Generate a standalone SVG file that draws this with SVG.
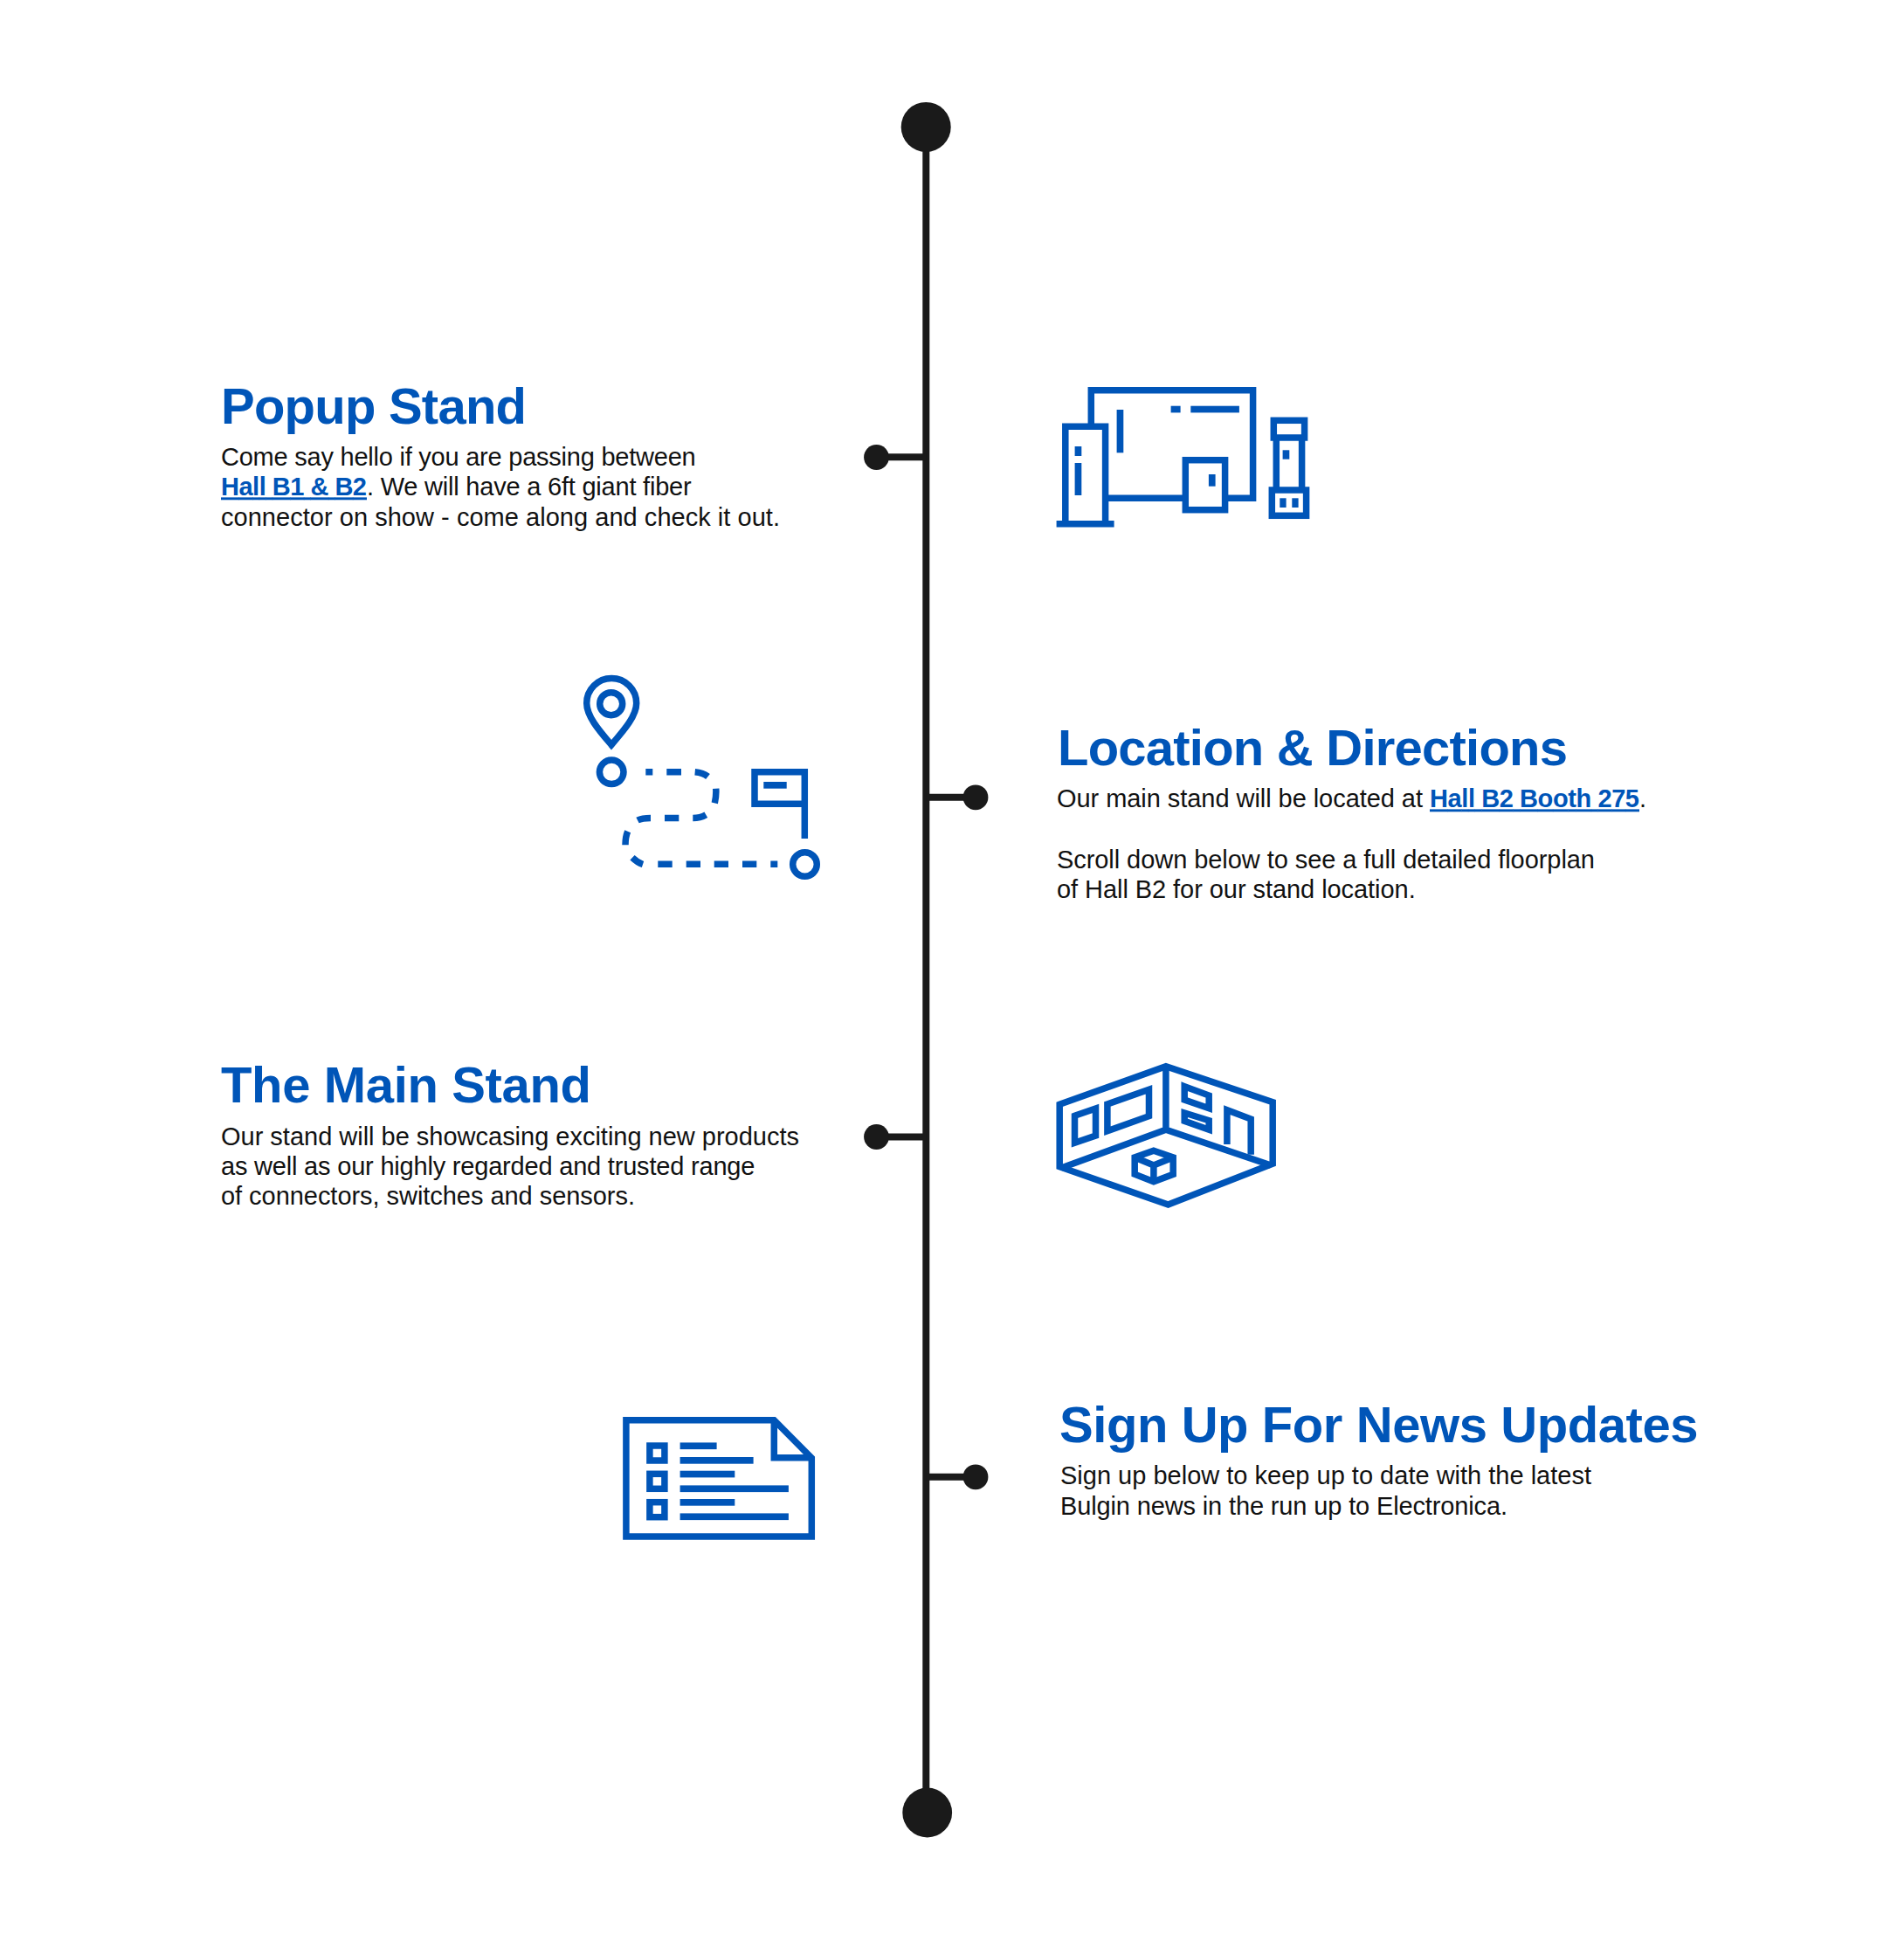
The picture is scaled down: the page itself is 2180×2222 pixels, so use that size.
<svg xmlns="http://www.w3.org/2000/svg" width="2180" height="2222" viewBox="0 0 2180 2222">
<style>
text{font-family:"Liberation Sans",Arial,sans-serif}
.h{font-size:58px;font-weight:700;fill:#0055b8}
.b{font-size:29px;fill:#111}
.l{font-weight:700;fill:#0055b8;text-decoration:underline}
.s{fill:none;stroke:#0055b8;stroke-width:7.5;stroke-linejoin:miter;stroke-miterlimit:10}
.f{fill:#0055b8}
.c{stroke:#1a1a1a;stroke-width:8;fill:none}
.d{fill:#1a1a1a}
</style>
<rect width="2180" height="2222" fill="#fff"/>
<g id="connectors">
<line class="c" x1="1060.3" y1="145" x2="1060.3" y2="2075"/>
<line class="c" x1="1003.5" y1="523.3" x2="1060.3" y2="523.3"/>
<line class="c" x1="1060.3" y1="912.8" x2="1117" y2="912.8"/>
<line class="c" x1="1003.5" y1="1301.5" x2="1060.3" y2="1301.5"/>
<line class="c" x1="1060.3" y1="1690.8" x2="1117" y2="1690.8"/>
</g>
<g id="end-top"><circle class="d" cx="1060.2" cy="145.4" r="28.5"/></g>
<g id="end-bottom"><circle class="d" cx="1061.7" cy="2075" r="28.4"/></g>
<g id="dot-1"><circle class="d" cx="1003.5" cy="523.5" r="14.4"/></g>
<g id="dot-2"><circle class="d" cx="1117" cy="912.8" r="14.4"/></g>
<g id="dot-3"><circle class="d" cx="1003.5" cy="1301.5" r="14.4"/></g>
<g id="dot-4"><circle class="d" cx="1117" cy="1690.8" r="14.4"/></g>

<g id="popup-text">
<text class="h" x="253" y="484.6" textLength="350" lengthAdjust="spacing">Popup Stand</text>
<text class="b" x="253" y="532.8" textLength="543.7" lengthAdjust="spacing">Come say hello if you are passing between</text>
<text class="b" y="567.4"><tspan class="l" x="253" textLength="167" lengthAdjust="spacing">Hall B1 &amp; B2</tspan><tspan x="420" textLength="371.7" lengthAdjust="spacing">. We will have a 6ft giant fiber</tspan></text>
<text class="b" x="253" y="602.2" textLength="640" lengthAdjust="spacing">connector on show - come along and check it out.</text>
</g>
<g id="popup-icon">
<path class="s" d="M1249.3 488.3V446.7H1434.6V570.3H1403M1357.3 570.3H1266"/>
<path class="s" d="M1219.8 599.7V488.3H1265.6V599.7"/>
<path class="s" d="M1209.6 599.7H1275.6"/>
<rect class="f" x="1230.6" y="511" width="7.7" height="11"/>
<rect class="f" x="1230.6" y="530" width="7.7" height="37"/>
<rect class="f" x="1278.6" y="469" width="7.7" height="49.3"/>
<rect class="f" x="1340.6" y="464.7" width="11" height="7.7"/>
<rect class="f" x="1363.3" y="464.7" width="55.6" height="7.7"/>
<rect class="s" x="1357.3" y="526.7" width="45.3" height="57"/>
<rect class="f" x="1383.9" y="543" width="7.7" height="13.7"/>
<rect class="s" x="1458.3" y="481.3" width="35.3" height="19.7"/>
<path class="s" d="M1461.3 501V561M1490.6 501V561"/>
<rect class="f" x="1468.6" y="515.3" width="7.7" height="10.4"/>
<rect class="s" x="1456.3" y="561" width="39.3" height="29.3"/>
<rect class="f" x="1465.3" y="570.3" width="7.3" height="10.7"/>
<rect class="f" x="1479.3" y="570.3" width="7.3" height="10.7"/>
</g>

<g id="location-icon">
<path class="s" d="M700 852.7C686.4 836.7 671.7 820 671.7 805A28.5 28.5 0 0 1 728.7 805C728.7 820 713.7 836.7 700 852.7Z"/>
<circle class="s" cx="699.7" cy="805.7" r="13"/>
<circle class="s" cx="700.2" cy="883.8" r="13.8"/>
<circle class="s" cx="921.5" cy="989.5" r="13.8"/>
<path class="s" d="M739.3 883.7H747.3M763.3 883.7H780M795.7 883.7Q805 884.5 810.5 889M819.7 902.7Q820.3 911 818.3 919.3M808.3 932.7Q801.7 936.5 793.3 936.5M777.3 936.5H761M745 936.5Q735 936.5 730 939M718.7 951.7Q716 958 716 967.3M724 981.7Q730 987.5 736 989.5M753.3 989.3H769.7M785.7 989.3H802M817.7 989.3H834M850 989.3H866.3M882.3 989.3H890.3"/>
<path class="s" d="M921.3 960V883.7H864V920.3H921.3"/>
<rect class="f" x="874.3" y="895" width="26.4" height="7.7"/>
</g>
<g id="location-text">
<text class="h" x="1211" y="876.2" textLength="584" lengthAdjust="spacing">Location &amp; Directions</text>
<text class="b" y="924.4"><tspan x="1210" textLength="427" lengthAdjust="spacing">Our main stand will be located at </tspan><tspan class="l" x="1637" textLength="240" lengthAdjust="spacing">Hall B2 Booth 275</tspan><tspan x="1877">.</tspan></text>
<text class="b" x="1210" y="994" textLength="616" lengthAdjust="spacing">Scroll down below to see a full detailed floorplan</text>
<text class="b" x="1210" y="1028.2" textLength="410.7" lengthAdjust="spacing">of Hall B2 for our stand location.</text>
</g>

<g id="main-text">
<text class="h" x="253" y="1262" textLength="424" lengthAdjust="spacing">The Main Stand</text>
<text class="b" x="253" y="1311" textLength="662" lengthAdjust="spacing">Our stand will be showcasing exciting new products</text>
<text class="b" x="253" y="1345" textLength="611.4" lengthAdjust="spacing">as well as our highly regarded and trusted range</text>
<text class="b" x="253" y="1379" textLength="474" lengthAdjust="spacing">of connectors, switches and sensors.</text>
</g>
<g id="main-icon" transform="translate(-0.8 0)">
<path class="s" d="M1214 1264.3L1335.7 1220.7L1458 1261.7V1332.3L1338.3 1379L1214 1335.7Z"/>
<path class="s" d="M1335.7 1220.7V1293.3M1216 1337L1335.7 1293.3L1456 1334"/>
<path class="s" d="M1231.3 1277.3L1255.3 1269V1300L1231.3 1308.3Z"/>
<path class="s" d="M1268.7 1264L1316.3 1247.3V1277.7L1268.7 1294.7Z"/>
<path class="s" d="M1357 1243.7L1385 1254V1268.7L1357 1259Z"/>
<path class="s" d="M1357 1274L1385 1282.7V1293.3L1357 1283.3Z"/>
<path class="s" d="M1405.7 1310V1270.7L1433 1281V1321.7"/>
<path class="s" d="M1321.7 1317.3L1344 1325V1344.3L1321.7 1352.7L1300 1344.3V1325Z"/>
<path class="s" d="M1300 1325L1321.7 1334L1344 1325M1321.7 1334V1352.7"/>
</g>

<g id="news-icon" transform="translate(-0.4 0)">
<path class="s" d="M717.3 1625.7H886.7L929.7 1669V1759H717.3Z"/>
<path class="s" d="M886.7 1625.7V1668.7H929.7"/>
<rect class="s" x="744.3" y="1655" width="17" height="17"/>
<rect class="s" x="744.3" y="1687.3" width="17" height="17"/>
<rect class="s" x="744.3" y="1719.7" width="17" height="17"/>
<rect class="f" x="779" y="1651.4" width="42" height="7.7"/>
<rect class="f" x="779" y="1668" width="84" height="7.7"/>
<rect class="f" x="779" y="1683.7" width="62.7" height="7.7"/>
<rect class="f" x="779" y="1700.4" width="124.3" height="7.7"/>
<rect class="f" x="779" y="1716" width="62.7" height="7.7"/>
<rect class="f" x="779" y="1732.4" width="124.3" height="7.7"/>
</g>
<g id="news-text">
<text class="h" x="1213" y="1651" textLength="731.5" lengthAdjust="spacing">Sign Up For News Updates</text>
<text class="b" x="1214" y="1699.4" textLength="608" lengthAdjust="spacing">Sign up below to keep up to date with the latest</text>
<text class="b" x="1214" y="1733.9" textLength="512" lengthAdjust="spacing">Bulgin news in the run up to Electronica.</text>
</g>
</svg>
